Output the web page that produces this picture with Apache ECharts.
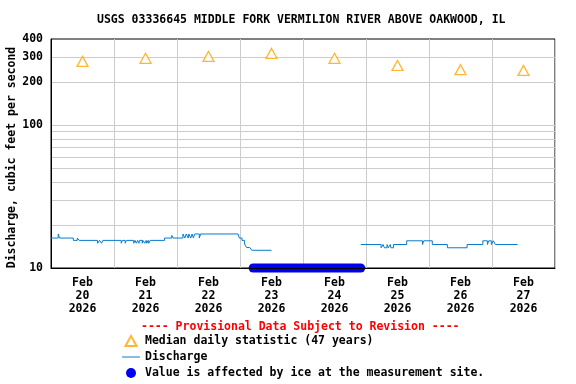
<!DOCTYPE html>
<html><head><meta charset="utf-8">
<script src="https://cdn.jsdelivr.net/npm/echarts@6/dist/echarts.min.js"></script>
<style>html,body{margin:0;padding:0;background:#fff}#c{width:576px;height:384px}</style>
</head><body><div id="c"></div>
<script>
const titleText = 'USGS 03336645 MIDDLE FORK VERMILION RIVER ABOVE OAKWOOD, IL';
const provisionalText = '---- Provisional Data Subject to Revision ----';
const yAxisName = 'Discharge, cubic feet per second';
const dayLabels = ['Feb\n20\n2026','Feb\n21\n2026','Feb\n22\n2026','Feb\n23\n2026','Feb\n24\n2026','Feb\n25\n2026','Feb\n26\n2026','Feb\n27\n2026'];
const dayBounds = ['2026-02-20T00:00','2026-02-28T00:00'];
const yLabelValues = [10,100,200,300,400];
const yGridValues = [20,30,40,50,60,70,80,90,100,200,300];

const medianName = 'Median daily statistic (47 years)';
const medianTimes = ['2026-02-20T12:00','2026-02-21T12:00','2026-02-22T12:00','2026-02-23T12:00','2026-02-24T12:00','2026-02-25T12:00','2026-02-26T12:00','2026-02-27T12:00'];
const medianValues = [279,293,302,317,293,261,244,241];

const dischargeName = 'Discharge';
const dischargeTimes = [
 '2026-02-20T00:00','2026-02-20T02:45','2026-02-20T03:15','2026-02-20T08:30','2026-02-20T10:00','2026-02-20T10:45',
 '2026-02-20T17:45','2026-02-20T18:30','2026-02-20T19:15','2026-02-20T19:45',
 '2026-02-21T02:45','2026-02-21T03:15','2026-02-21T04:15','2026-02-21T04:45','2026-02-21T07:30','2026-02-21T08:00',
 '2026-02-21T08:30','2026-02-21T09:00','2026-02-21T09:30','2026-02-21T09:45','2026-02-21T10:45','2026-02-21T11:00',
 '2026-02-21T11:45','2026-02-21T12:15','2026-02-21T12:30','2026-02-21T13:00','2026-02-21T13:15','2026-02-21T13:45',
 '2026-02-21T19:15','2026-02-21T22:00','2026-02-21T22:30',
 '2026-02-22T02:15','2026-02-22T03:00','2026-02-22T03:30','2026-02-22T04:15','2026-02-22T04:30','2026-02-22T05:15',
 '2026-02-22T05:45','2026-02-22T06:15','2026-02-22T06:45','2026-02-22T08:30','2026-02-22T09:00',
 '2026-02-22T23:15','2026-02-22T23:45','2026-02-23T00:45','2026-02-23T01:45','2026-02-23T02:30','2026-02-23T03:45',
 '2026-02-23T04:30','2026-02-23T05:00','2026-02-23T12:00',
 '2026-02-24T22:00','2026-02-25T05:45','2026-02-25T06:30','2026-02-25T07:00','2026-02-25T08:00','2026-02-25T08:30',
 '2026-02-25T09:15','2026-02-25T09:30','2026-02-25T10:30','2026-02-25T15:30','2026-02-25T21:30','2026-02-25T22:00',
 '2026-02-26T01:15','2026-02-26T07:00','2026-02-26T14:30','2026-02-26T20:30','2026-02-26T22:15','2026-02-26T22:45',
 '2026-02-26T23:45','2026-02-27T00:30','2026-02-27T01:15','2026-02-27T09:45'
];
const dischargeValues = [
 16.2,17.3,16.2,15.6,16.2,15.6,
 14.9,15.6,14.9,15.6,
 14.9,15.6,14.9,15.6,14.9,15.6,
 14.9,15.6,14.9,15.6,14.9,15.6,
 14.9,15.6,14.9,15.6,14.9,15.6,
 16.2,16.9,16.2,
 17.3,16.2,17.3,16.2,17.3,16.2,
 17.3,16.2,17.3,16.2,17.3,
 16.8,16.2,15.6,14.7,13.9,13.5,
 13.3,13.3,null,
 14.6,13.85,14.6,13.85,14.6,13.85,
 14.6,13.85,14.6,15.5,14.6,15.5,
 14.6,13.85,14.6,15.5,14.6,15.5,
 14.6,15.5,14.6,14.6
];

const iceName = 'Value is affected by ice at the measurement site.';
const iceTimes = ['2026-02-23T05:00','2026-02-24T22:00'];
const iceValues = [10,10];

const zip = (a,b) => a.map((t,i) => [t,b[i]]);
const font = 'DejaVu Sans Mono';
const txt = (size, color) => ({fontFamily:font, fontWeight:'bold', fontSize:size, color:color||'#000'});

const chart = echarts.init(document.getElementById('c'), null, {renderer:'canvas'});
chart.setOption({
  animation:false,
  backgroundColor:'#fff',
  title:[
    {text:titleText, left:97, top:14, padding:0, textStyle:txt(11.5)},
    {text:provisionalText, left:141, top:321, padding:0, textStyle:txt(11.5,'#ff0000')}
  ],
  grid:{left:51, top:39, right:21, bottom:116, outerBoundsMode:'none', containLabel:false,
        show:true, borderColor:'#000', borderWidth:1, backgroundColor:'transparent'},
  xAxis:[
    {type:'category', data:dayLabels, position:'bottom', boundaryGap:true,
     axisLine:{show:false}, axisTick:{show:false},
     splitLine:{show:true, lineStyle:{color:'#cccccc', width:1}},
     axisLabel:Object.assign(txt(11.5), {lineHeight:13, margin:9, interval:0})},
    {type:'time', min:dayBounds[0], max:dayBounds[1], position:'bottom', z:10,
     axisLine:{show:true, onZero:false, lineStyle:{color:'#000', width:1}},
     axisTick:{show:false}, axisLabel:{show:false}, splitLine:{show:false}}
  ],
  yAxis:{type:'log', logBase:10, min:10, max:400,
    name:yAxisName, nameLocation:'middle', nameGap:33, nameMoveOverlap:false,
    nameTextStyle:Object.assign(txt(11.5), {padding:[0,8,0,0]}),
    axisLine:{show:true, lineStyle:{color:'#000'}},
    axisTick:{show:false, customValues:yGridValues},
    axisLabel:Object.assign(txt(11.5), {customValues:yLabelValues, margin:8}),
    splitLine:{show:true, lineStyle:{color:'#cccccc', width:1}}
  },
  legend:{orient:'vertical', left:122, top:334, padding:0, itemWidth:18, itemHeight:10, itemGap:2,
    selectedMode:false, symbolKeepAspect:true,
    textStyle:Object.assign(txt(11.5), {lineHeight:14}),
    data:[
      {name:medianName, icon:'path://M5,0L10,9L0,9Z'},
      {name:dischargeName, icon:'path://M0,0L18,0L18,1L0,1Z', itemStyle:{color:'#0a7bcc', borderWidth:0}},
      {name:iceName, icon:'circle'}
    ]
  },
  series:[
    {name:medianName, type:'scatter', xAxisIndex:1, symbol:'triangle', symbolSize:[11,10],
     itemStyle:{color:'#ffffff', borderColor:'#ffa500', borderWidth:1.3}, z:4,
     data:zip(medianTimes, medianValues)},
    {name:dischargeName, type:'line', xAxisIndex:1, step:'end', symbol:'none', showSymbol:false,
     connectNulls:false, lineStyle:{color:'#0a7bcc', width:1}, itemStyle:{color:'#0a7bcc'}, z:3,
     data:zip(dischargeTimes, dischargeValues)},
    {name:iceName, type:'line', xAxisIndex:1, symbol:'none', showSymbol:false, clip:false,
     lineStyle:{color:'#0000f0', width:9, cap:'round'}, itemStyle:{color:'#0000f0'}, z:5,
     data:zip(iceTimes, iceValues)}
  ]
});
</script></body></html>
